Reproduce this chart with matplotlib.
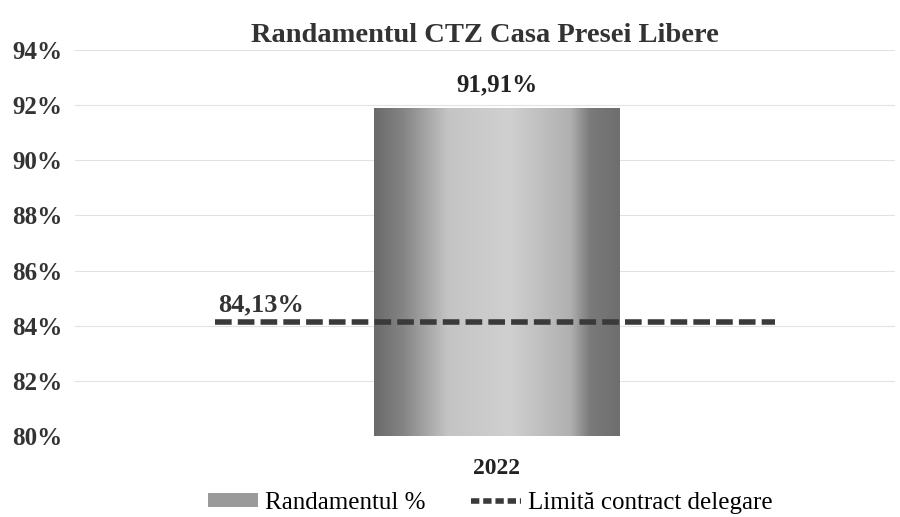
import matplotlib
matplotlib.use("Agg")
import matplotlib.pyplot as plt
import numpy as np
from matplotlib.colors import LinearSegmentedColormap
from matplotlib.patches import Patch
from matplotlib.lines import Line2D

categories = ["2022"]
randament = [91.91]
limita = 84.13
yticks = [80, 82, 84, 86, 88, 90, 92, 94]

plt.rcParams['font.family'] = ['Liberation Serif', 'DejaVu Serif']

fig = plt.figure(figsize=(9, 5.17), dpi=100)
ax = fig.add_axes([0.083, 0.157, 0.911, 0.746])

x = np.arange(len(categories))
bars = ax.bar(x, randament, width=0.3, bottom=0, color="none", edgecolor="none", zorder=3)

# gradient fill for the bar (scanned texture look)
cmap = LinearSegmentedColormap.from_list("g", [
    (0.0, "#6a6a6a"), (0.12, "#858585"), (0.3, "#c4c4c4"),
    (0.55, "#d0d0d0"), (0.8, "#b0b0b0"), (0.88, "#7a7a7a"), (1.0, "#6e6e6e")])
grad = np.linspace(0, 1, 256).reshape(1, -1)
for b in bars:
    x0, w, h = b.get_x(), b.get_width(), b.get_height()
    im = ax.imshow(grad, cmap=cmap, aspect="auto", extent=[x0, x0 + w, 80, h],
                   zorder=3, interpolation="bicubic")
    im.set_clip_path(b)
    ax.text(x0 + w / 2, h + 0.4, f"{h:.2f}".replace(".", ",") + "%",
            ha="center", va="bottom", fontsize=18, fontweight="bold", color="#222222")

ax.plot([-0.344, 0.339], [limita, limita], color="#3a3a3a", lw=4,
        linestyle=(0, (3.0, 1.1)), zorder=4)
ax.text(-0.34, limita + 0.2, f"{limita:.2f}".replace(".", ",") + "%", ha="left", va="bottom",
        fontsize=19, fontweight="bold", color="#333333")

ax.set_xlim(-0.515, 0.485)
ax.set_ylim(80, 94)
ax.set_yticks(yticks)
ax.set_yticklabels([f"{t}%" for t in yticks], fontsize=18, fontweight="bold", color="#333333")
ax.set_xticks(x)
ax.set_xticklabels(categories, fontsize=17, fontweight="bold", color="#222222")
ax.tick_params(axis="y", length=0, pad=9)
ax.tick_params(axis="x", length=0, pad=16)
ax.grid(axis="y", color="#e2e2e2", lw=0.8, zorder=0)
for s in ax.spines.values():
    s.set_visible(False)

ax.set_title("Randamentul CTZ Casa Presei Libere", fontsize=20.5, fontweight="bold",
             color="#333333", pad=6)

handles = [Patch(facecolor="#9a9a9a", edgecolor="none"),
           Line2D([0], [0], color="#3a3a3a", lw=4, linestyle=(0, (1.5, 0.7)))]
fig.legend(handles, ["Randamentul %", "Limită contract delegare"], loc="lower center",
           bbox_to_anchor=(0.545, -0.037), ncol=2, frameon=False, fontsize=18,
           handlelength=2.0, handleheight=0.5, columnspacing=1.8, handletextpad=0.3)

fig.savefig("out.png", dpi=100)
